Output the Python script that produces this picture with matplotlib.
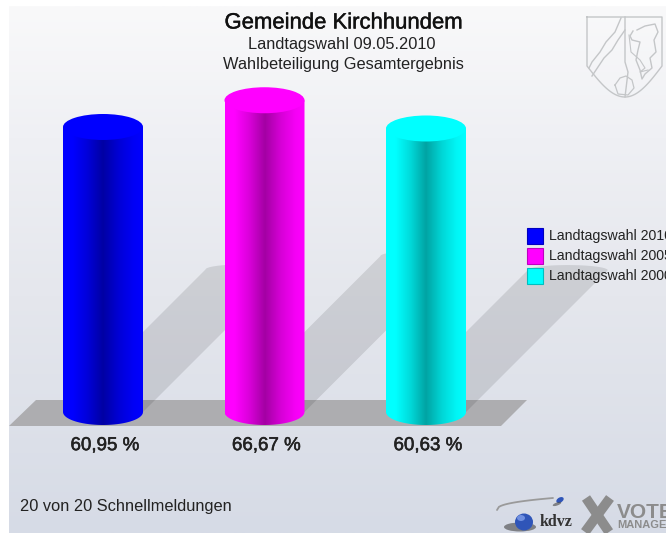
import numpy as np
import matplotlib
matplotlib.use("Agg")
import matplotlib.pyplot as plt
from matplotlib.colors import LinearSegmentedColormap
from matplotlib.patches import Ellipse, PathPatch, Polygon, Rectangle
from matplotlib.path import Path
import matplotlib.patheffects as pe

plt.rcParams['font.family'] = ['Liberation Sans', 'DejaVu Sans']

# data
elections = ["Landtagswahl 2010", "Landtagswahl 2005", "Landtagswahl 2000"]
turnout = [60.95, 66.67, 60.63]
value_labels = ["60,95 %", "66,67 %", "60,63 %"]
bar_colors = [(0, 0, 1), (1, 0, 1), (0, 1, 1)]

# geometry of the fake 3d scene, in pixels
W, H = 666, 533
PX_PER_BAR = 161.5
PX_PER_PCT = 4.676
X0, Y0 = 103, 412
BAR_W = 80 / PX_PER_BAR
ELL_H = 26 / PX_PER_PCT

fig = plt.figure(figsize=(W / 100, H / 100), dpi=100, facecolor='white')

### Background, floor, in pixel coords
bg = fig.add_axes([0, 0, 1, 1], zorder=0)
bg.set_xlim(0, W)
bg.set_ylim(H, 0)
bg.axis('off')
stops = [(0.0, (249, 249, 250)), (0.25, (239, 240, 244)), (0.55, (229, 231, 237)), (1.0, (214, 219, 230))]
bg_cmap = LinearSegmentedColormap.from_list(
    'bg', [(p, tuple(c / 255 for c in col)) for p, col in stops])
bg.imshow(np.linspace(0, 1, 256)[:, None], cmap=bg_cmap, aspect='auto', extent=[9, W, H, 6], zorder=0)
bg.set_xlim(0, W)
bg.set_ylim(H, 0)
bg.add_patch(Polygon([(9, 426), (36, 400), (527, 400), (501, 426)], closed=True,
                     facecolor=(0.68, 0.68, 0.69), edgecolor='none', zorder=1))

### Chart, in value coords
ax = fig.add_axes([0, 0, 1, 1], zorder=1)
ax.patch.set_alpha(0)
ax.axis('off')
x_lim = (-X0 / PX_PER_BAR, (W - X0) / PX_PER_BAR)
y_lim = (-(H - Y0) / PX_PER_PCT, Y0 / PX_PER_PCT)

# shadows fall up and to the right, half as long as the bar is tall
for i, v in enumerate(turnout):
    dx = v * PX_PER_PCT / 2 / PX_PER_BAR
    dy = v / 2
    left, right = i - BAR_W / 2, i + BAR_W / 2
    t = np.linspace(np.pi, 0, 30)
    cx = i + dx + np.cos(t) * BAR_W / 2
    cy = dy + np.sin(t) * ELL_H * 0.2
    pts = [(left, 0)] + list(zip(cx, cy)) + [(right, 0)]
    ax.add_patch(Polygon(pts, closed=True, facecolor='black', edgecolor='none', alpha=0.105, zorder=1))

# cylinders
profile_x = [0, 0.12, 0.3, 0.5, 0.7, 0.88, 1]
profile_y = [1.0, 1.0, 0.86, 0.64, 0.84, 0.96, 1.0]
shade = np.interp(np.linspace(0, 1, 200), profile_x, profile_y)
for i, (v, c) in enumerate(zip(turnout, bar_colors)):
    grad = np.outer(shade, c)[None, :, :]
    left, right = i - BAR_W / 2, i + BAR_W / 2
    im = ax.imshow(grad, aspect='auto', extent=[left, right, -ELL_H / 2, v], zorder=3,
                   interpolation='bilinear')
    t = np.linspace(np.pi, 2 * np.pi, 40)
    verts = [(left, v)] + list(zip(i + np.cos(t) * BAR_W / 2, np.sin(t) * ELL_H / 2)) + [(right, v), (left, v)]
    body = Path(verts)
    im.set_clip_path(PathPatch(body, transform=ax.transData))
    ax.add_patch(Ellipse((i, v), BAR_W, ELL_H, facecolor=c, edgecolor='none', zorder=4))
    ax.text(i + 0.012, -7.2, value_labels[i], ha='center', va='center', fontsize=13.5,
            color='#222222', zorder=5,
            path_effects=[pe.withStroke(linewidth=0.4, foreground='#222222')])
ax.set_xlim(*x_lim)
ax.set_ylim(*y_lim)

### Overlay: texts, legend, logos
top = fig.add_axes([0, 0, 1, 1], zorder=2)
top.patch.set_alpha(0)
top.set_xlim(0, W)
top.set_ylim(H, 0)
top.axis('off')

top.text(344, 23, "Gemeinde Kirchhundem", ha='center', va='center', fontsize=15.9, color='#111111',
         path_effects=[pe.withStroke(linewidth=0.3, foreground='#111111')])
top.text(342, 44, "Landtagswahl 09.05.2010", ha='center', va='center', fontsize=11.8, color='#222222')
top.text(343.5, 64, "Wahlbeteiligung Gesamtergebnis", ha='center', va='center', fontsize=11.8, color='#222222')
top.text(20, 507, "20 von 20 Schnellmeldungen", ha='left', va='center', fontsize=11.8, color='#222222')

for k, (name, c) in enumerate(zip(elections, bar_colors)):
    y = 228 + k * 20
    darker = tuple(0.75 * ch for ch in c)
    top.add_patch(Rectangle((527, y), 16, 15.5, facecolor=c, edgecolor=darker, linewidth=0.8))
    top.text(549, y + 8, name, ha='left', va='center', fontsize=10.2, color='#222222', clip_on=True)

# coat of arms
shield_col = '#c4c6c8'
t = np.linspace(0, 1, 30)
shield_l = [(587, 17), (587, 66)] + [(587 + 38 * s, 66 + 31 * np.sin(s * np.pi / 2)) for s in t]
shield_r = [(625 + 37 * s, 97 - 31 * (1 - np.cos(s * np.pi / 2))) for s in t] + [(662, 17), (587, 17)]
top.plot(*zip(*(shield_l + shield_r)), color=shield_col, lw=1, solid_joinstyle='round')
top.plot([625, 625, 628, 625], [17, 62, 72, 97], color=shield_col, lw=1)
top.plot([621, 615, 606, 600, 592, 589], [18, 32, 42, 52, 62, 68], color=shield_col, lw=1)
top.plot([625, 618, 612, 604, 596, 592], [30, 40, 50, 58, 70, 76], color=shield_col, lw=1)
top.plot([637, 645, 655, 658, 654, 656, 650, 652, 645, 642, 640, 636, 638, 640, 632, 630, 633],
         [30, 26, 24, 32, 40, 52, 58, 68, 74, 79, 70, 60, 50, 42, 40, 36, 31], color=shield_col, lw=1)
top.plot([629, 631, 640, 645, 640, 648], [35, 52, 60, 68, 72, 70], color=shield_col, lw=0.8)
top.plot([615, 620, 626, 632, 634, 628, 618, 615], [85, 78, 76, 80, 88, 95, 94, 85], color=shield_col, lw=0.9)

# kdvz / vote manager logo
t = np.linspace(0, 1, 30)
top.plot(497 + 56 * t, 510 - 12 * t ** 0.4, color='#9a9a9a', lw=1.3, solid_capstyle='round')
top.add_patch(Ellipse((520, 527), 32, 9, facecolor='#444444', edgecolor='none', alpha=0.6))
top.add_patch(Ellipse((524, 522), 18, 17, facecolor='#2f55b8', edgecolor='none'))
top.add_patch(Ellipse((521, 518), 8, 6, facecolor='#6f8fe0', edgecolor='none'))
top.add_patch(Ellipse((560, 500), 8, 5, angle=-30, facecolor='#2f55b8', edgecolor='none'))
top.add_patch(Ellipse((557, 504), 9, 3, angle=-20, facecolor='#444444', edgecolor='none', alpha=0.6))
top.text(540, 522, "kdvz", ha='left', va='center', fontsize=11.5, fontweight='bold', family='Liberation Serif', color='#333333')
top.plot([586, 609], [498, 532], color='#8c8c8c', lw=7, solid_capstyle='butt')
top.plot([610, 585], [498, 532], color='#8c8c8c', lw=7, solid_capstyle='butt')
top.text(617, 512, "VOTE", ha='left', va='center', fontsize=15, fontweight='bold', color='#8c8c8c', clip_on=True)
top.text(617, 525.5, "MANAGER", ha='left', va='center', fontsize=8, fontweight='bold', color='#8c8c8c', clip_on=True)

fig.savefig('out.png', dpi=100)
